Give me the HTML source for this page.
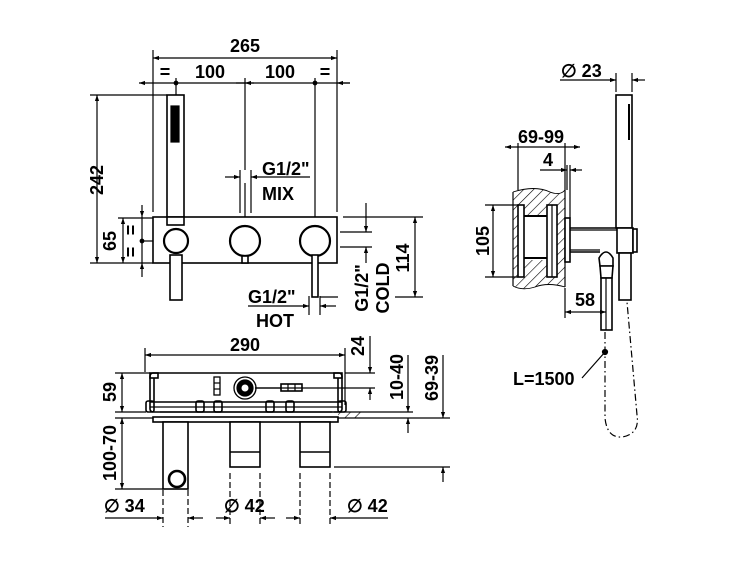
<!DOCTYPE html>
<html><head><meta charset="utf-8"><style>
html,body{margin:0;padding:0;background:#fff;}
svg{display:block;}
text{font-family:"Liberation Sans",Arial,sans-serif;font-weight:bold;fill:#000;}
</style></head><body>
<svg width="750" height="563" viewBox="0 0 750 563" xmlns="http://www.w3.org/2000/svg">
<defs>
<marker id="a" viewBox="0 0 10 10" refX="10" refY="5" markerWidth="10" markerHeight="6" orient="auto-start-reverse" markerUnits="userSpaceOnUse"><path d="M0,1.5 L10,5 L0,8.5 Z" fill="#000"/></marker>
<pattern id="h" width="7" height="7" patternUnits="userSpaceOnUse" patternTransform="rotate(45)"><line x1="0" y1="0" x2="0" y2="7" stroke="#000" stroke-width="1.2"/></pattern>
</defs>
<g stroke="#000" fill="none" stroke-width="1.2">
<!-- TOP VIEW dims -->
<line x1="153" y1="58" x2="337" y2="58" marker-start="url(#a)" marker-end="url(#a)"/>
<line x1="153" y1="50" x2="153" y2="212"/><line x1="337" y1="50" x2="337" y2="212"/>
<line x1="139" y1="83" x2="176" y2="83" marker-start="url(#a)"/>
<line x1="176" y1="83" x2="350" y2="83"/>
<path d="M236,83 l9,0 M254,83 l-9,0" marker-end="url(#a)"/>
<line x1="337" y1="83" x2="350" y2="83" marker-start="url(#a)"/>
<circle cx="176" cy="83" r="1.8" fill="#000"/><circle cx="315" cy="83" r="1.8" fill="#000"/>
<line x1="176" y1="78" x2="176" y2="95"/>
<line x1="245" y1="78" x2="245" y2="170"/><line x1="245" y1="183" x2="245" y2="226"/>
<line x1="315" y1="78" x2="315" y2="226"/>
<!-- 242 -->
<line x1="97" y1="95" x2="97" y2="263" marker-start="url(#a)" marker-end="url(#a)"/>
<line x1="90" y1="95" x2="167" y2="95"/><line x1="90" y1="263" x2="153" y2="263"/>
<!-- 65 -->
<line x1="123" y1="218" x2="123" y2="263" marker-start="url(#a)" marker-end="url(#a)"/>
<line x1="118" y1="218" x2="153" y2="218"/>
<line x1="142" y1="205" x2="142" y2="217" marker-end="url(#a)"/>
<line x1="142" y1="277" x2="142" y2="263" marker-end="url(#a)"/>
<line x1="142" y1="217" x2="142" y2="263"/>
<circle cx="142" cy="241" r="1.8" fill="#000"/><line x1="142" y1="241" x2="153" y2="241"/>
<!-- hand shower top -->
<rect x="167" y="95" width="17" height="128" stroke-width="1.6"/>
<rect x="171" y="106" width="8" height="36" fill="#000"/>
<!-- plate -->
<rect x="153" y="217" width="184" height="46" stroke-width="1.6" fill="#fff"/>
<rect x="167" y="217" width="17" height="8" stroke-width="1.6" fill="#fff"/>
<circle cx="176" cy="241" r="12" stroke-width="2.2" fill="#fff"/>
<circle cx="245" cy="241" r="15" stroke-width="2.2" fill="#fff"/>
<circle cx="315" cy="241" r="15" stroke-width="2.2" fill="#fff"/>
<rect x="242" y="256" width="6" height="7" stroke-width="1.6" fill="#fff"/>
<rect x="170" y="255" width="12" height="45" stroke-width="1.6" fill="#fff"/>
<rect x="312" y="255" width="6" height="42" stroke-width="1.6" fill="#fff"/>
<!-- MIX -->
<line x1="225" y1="177" x2="240" y2="177" marker-end="url(#a)"/>
<line x1="251" y1="177" x2="310" y2="177" marker-start="url(#a)"/>
<line x1="240" y1="170" x2="240" y2="213"/><line x1="251" y1="170" x2="251" y2="213"/>
<!-- 114 -->
<line x1="343" y1="217" x2="423" y2="217"/><line x1="395" y1="297" x2="423" y2="297"/>
<line x1="415" y1="217" x2="415" y2="297" marker-start="url(#a)" marker-end="url(#a)"/>
<!-- COLD -->
<line x1="340" y1="232" x2="372" y2="232"/><line x1="340" y1="247" x2="372" y2="247"/>
<line x1="366" y1="203" x2="366" y2="232" marker-end="url(#a)"/>
<line x1="366" y1="263" x2="366" y2="247" marker-end="url(#a)"/>
<!-- HOT -->
<line x1="248" y1="306" x2="309" y2="306" marker-end="url(#a)"/>
<line x1="336" y1="306" x2="320" y2="306" marker-end="url(#a)"/>
<line x1="309" y1="296" x2="309" y2="315"/><line x1="320" y1="296" x2="320" y2="315"/>
<line x1="320" y1="297" x2="338" y2="297"/>

<!-- BOTTOM VIEW -->
<line x1="145" y1="355" x2="345" y2="355" marker-start="url(#a)" marker-end="url(#a)"/>
<line x1="145" y1="348" x2="145" y2="372"/><line x1="345" y1="348" x2="345" y2="405"/>
<rect x="150" y="373" width="192" height="39" rx="3" stroke-width="1.6"/>
<line x1="150" y1="402" x2="342" y2="402" stroke-width="1.6"/>
<line x1="150" y1="407" x2="342" y2="407"/>
<rect x="150" y="373" width="8" height="5" stroke-width="1.6"/><rect x="334" y="373" width="8" height="5" stroke-width="1.6"/>
<line x1="154" y1="378" x2="154" y2="402" stroke-width="1.6"/><line x1="338" y1="378" x2="338" y2="402" stroke-width="1.6"/>
<g stroke-width="1.6">
<rect x="196" y="401" width="8" height="11" rx="2"/><rect x="214" y="401" width="8" height="11" rx="2"/>
<rect x="266" y="401" width="8" height="11" rx="2"/><rect x="286" y="401" width="8" height="11" rx="2"/>
<rect x="146" y="401" width="8" height="11" rx="2"/><rect x="338" y="401" width="8" height="11" rx="2"/>
</g>
<line x1="160" y1="412" x2="332" y2="412"/>
<rect x="153" y="417" width="185" height="5" stroke-width="1.6"/>
<rect x="214" y="377" width="6" height="18" stroke-width="1.3"/>
<line x1="214" y1="383" x2="220" y2="383"/><line x1="214" y1="389" x2="220" y2="389"/>
<line x1="255" y1="388" x2="281" y2="388"/>
<rect x="281" y="384" width="21" height="7" stroke-width="1.6"/>
<line x1="288" y1="384" x2="288" y2="391"/><line x1="295" y1="384" x2="295" y2="391"/>
<circle cx="245" cy="388" r="11" stroke-width="1.3"/>
<circle cx="245" cy="388" r="8" fill="#000"/>
<circle cx="245" cy="388" r="3.5" fill="#fff" stroke="none"/>
<rect x="338" y="412" width="25" height="6" fill="url(#h)" stroke="none"/>
<line x1="334" y1="412" x2="365" y2="412"/>
<!-- pipes -->
<rect x="163" y="422" width="25" height="67" stroke-width="1.6" fill="#fff"/>
<circle cx="177" cy="479" r="8" stroke-width="2.6" fill="#fff"/>
<rect x="230" y="422" width="30" height="45" stroke-width="1.6" fill="#fff"/>
<line x1="230" y1="452" x2="260" y2="452" stroke-width="1.6"/>
<rect x="300" y="422" width="30" height="45" stroke-width="1.6" fill="#fff"/>
<line x1="300" y1="452" x2="330" y2="452" stroke-width="1.6"/>
<!-- left dims -->
<line x1="115" y1="373" x2="150" y2="373"/><line x1="115" y1="412" x2="146" y2="412"/>
<line x1="122" y1="373" x2="122" y2="412" marker-start="url(#a)" marker-end="url(#a)"/>
<line x1="115" y1="418" x2="153" y2="418"/><line x1="115" y1="489" x2="163" y2="489"/>
<line x1="122" y1="418" x2="122" y2="489" marker-start="url(#a)" marker-end="url(#a)"/>
<!-- right dims -->
<line x1="345" y1="373" x2="375" y2="373"/><line x1="255" y1="388" x2="375" y2="388"/>
<line x1="370" y1="336" x2="370" y2="373" marker-end="url(#a)"/>
<line x1="370" y1="400" x2="370" y2="388" marker-end="url(#a)"/>
<line x1="365" y1="412" x2="413" y2="412"/><line x1="338" y1="418" x2="450" y2="418"/>
<line x1="408" y1="355" x2="408" y2="412" marker-end="url(#a)"/>
<line x1="408" y1="433" x2="408" y2="418" marker-end="url(#a)"/>
<line x1="443" y1="355" x2="443" y2="418" marker-end="url(#a)"/>
<line x1="443" y1="482" x2="443" y2="467" marker-end="url(#a)"/>
<line x1="334" y1="467" x2="450" y2="467"/>
<!-- diameters -->
<g stroke-dasharray="6,3">
<line x1="163" y1="490" x2="163" y2="527"/><line x1="188" y1="490" x2="188" y2="527"/>
<line x1="230" y1="473" x2="230" y2="527"/><line x1="260" y1="473" x2="260" y2="527"/>
<line x1="300" y1="473" x2="300" y2="527"/><line x1="330" y1="473" x2="330" y2="527"/>
</g>
<line x1="105" y1="518" x2="163" y2="518" marker-end="url(#a)"/>
<line x1="203" y1="518" x2="188" y2="518" marker-end="url(#a)"/>
<line x1="216" y1="518" x2="230" y2="518" marker-end="url(#a)"/>
<line x1="275" y1="518" x2="260" y2="518" marker-end="url(#a)"/>
<line x1="286" y1="518" x2="300" y2="518" marker-end="url(#a)"/>
<line x1="388" y1="518" x2="330" y2="518" marker-end="url(#a)"/>

<!-- SIDE VIEW -->
<line x1="560" y1="80" x2="616" y2="80" marker-end="url(#a)"/>
<line x1="645" y1="80" x2="632" y2="80" marker-end="url(#a)"/>
<line x1="616" y1="73" x2="616" y2="92"/><line x1="632" y1="73" x2="632" y2="92"/>
<path d="M513,192 Q535,185 550,192 Q560,196 565,190 L565,287 Q548,282 535,287 Q522,291 513,286 Z" fill="url(#h)" stroke="none"/>
<rect x="524" y="215" width="28" height="45" fill="#fff" stroke="none"/>
<path d="M513,192 Q535,185 550,192 Q560,196 565,190" stroke-width="0.9"/>
<path d="M565,287 Q548,282 535,287 Q522,291 513,286" stroke-width="0.9"/>
<line x1="513" y1="192" x2="513" y2="286"/><line x1="565" y1="190" x2="565" y2="287"/>
<line x1="524" y1="216" x2="552" y2="216" stroke-width="2"/><line x1="524" y1="258" x2="552" y2="258" stroke-width="2"/>
<rect x="518" y="205" width="6" height="72" stroke-width="1.6" fill="#fff"/>
<rect x="547" y="205" width="10" height="72" stroke-width="1.6" fill="#fff"/>
<line x1="552" y1="205" x2="552" y2="277"/>
<rect x="565" y="218" width="5" height="44" stroke-width="1.6" fill="#fff"/>
<line x1="570" y1="228" x2="617" y2="228" stroke-width="1.6"/>
<line x1="570" y1="252" x2="600" y2="252" stroke-width="1.6"/>
<line x1="570" y1="230" x2="617" y2="230"/>
<line x1="570" y1="250" x2="600" y2="250"/>
<rect x="616" y="95" width="16" height="133" stroke-width="1.6" fill="#fff"/>
<line x1="629" y1="104" x2="629" y2="140" stroke-width="2"/>
<rect x="617" y="228" width="16" height="25" stroke-width="1.6" fill="#fff"/>
<rect x="633" y="229" width="4" height="23" stroke-width="1.6" fill="#fff"/>
<rect x="619" y="253" width="12" height="47" stroke-width="1.6" fill="#fff"/>
<path d="M599,258 Q606,246 613,258 L613,266 L600,266 Z" stroke-width="1.6" fill="#fff"/>
<path d="M600,266 L613,266 L612,278 L601,278 Z" stroke-width="1.6" fill="#fff"/>
<rect x="601" y="278" width="11" height="52" stroke-width="1.6" fill="#fff"/>
<line x1="606" y1="278" x2="606" y2="330"/>
<line x1="505" y1="147" x2="580" y2="147" marker-start="url(#a)" marker-end="url(#a)"/>
<line x1="518" y1="143" x2="518" y2="190"/><line x1="565" y1="143" x2="565" y2="190"/>
<line x1="540" y1="170" x2="567" y2="170" marker-end="url(#a)"/>
<line x1="582" y1="170" x2="570" y2="170" marker-end="url(#a)"/>
<line x1="567" y1="165" x2="567" y2="190"/><line x1="570" y1="165" x2="570" y2="218"/>
<line x1="493" y1="205" x2="493" y2="277" marker-start="url(#a)" marker-end="url(#a)"/>
<line x1="485" y1="205" x2="518" y2="205"/><line x1="485" y1="277" x2="518" y2="277"/>
<line x1="565" y1="288" x2="565" y2="318"/>
<line x1="565" y1="312" x2="580" y2="312" marker-start="url(#a)"/>
<line x1="580" y1="312" x2="606" y2="312" marker-end="url(#a)"/>
<path d="M605,332 L605,418 Q607,438 622,437 Q640,434 637,415 L627,302" stroke-dasharray="7,3,1.5,3"/>
<circle cx="605" cy="352" r="2.5" fill="#000"/>
<line x1="605" y1="352" x2="582" y2="378"/>
</g>
<g font-size="18">
<text x="245" y="52" text-anchor="middle">265</text>
<text x="165" y="78" text-anchor="middle">=</text>
<text x="210" y="78" text-anchor="middle">100</text>
<text x="280" y="78" text-anchor="middle">100</text>
<text x="325" y="78" text-anchor="middle">=</text>
<text transform="translate(103,180) rotate(-90)" text-anchor="middle">242</text>
<text transform="translate(116,241) rotate(-90)" text-anchor="middle">65</text>
<text transform="translate(137,230) rotate(-90)" text-anchor="middle">=</text>
<text transform="translate(137,252) rotate(-90)" text-anchor="middle">=</text>
<text x="262" y="175">G1/2"</text>
<text x="262" y="200">MIX</text>
<text transform="translate(409,258) rotate(-90)" text-anchor="middle">114</text>
<text transform="translate(368,288) rotate(-90)" text-anchor="middle">G1/2"</text>
<text transform="translate(389,288) rotate(-90)" text-anchor="middle">COLD</text>
<text x="248" y="303">G1/2"</text>
<text x="256" y="327">HOT</text>
<text x="245" y="351" text-anchor="middle">290</text>
<text transform="translate(364,346) rotate(-90)" text-anchor="middle">24</text>
<text transform="translate(403,377) rotate(-90)" text-anchor="middle">10-40</text>
<text transform="translate(438,378) rotate(-90)" text-anchor="middle">69-39</text>
<text transform="translate(116,392) rotate(-90)" text-anchor="middle">59</text>
<text transform="translate(116,453) rotate(-90)" text-anchor="middle">100-70</text>
<text x="104" y="512">∅ 34</text>
<text x="224" y="512">∅ 42</text>
<text x="347" y="512">∅ 42</text>
<text x="561" y="77">∅ 23</text>
<text x="541" y="143" text-anchor="middle">69-99</text>
<text x="543" y="166">4</text>
<text transform="translate(489,241) rotate(-90)" text-anchor="middle">105</text>
<text x="575" y="306">58</text>
<text x="513" y="385">L=1500</text>
</g>
</svg>
</body></html>
